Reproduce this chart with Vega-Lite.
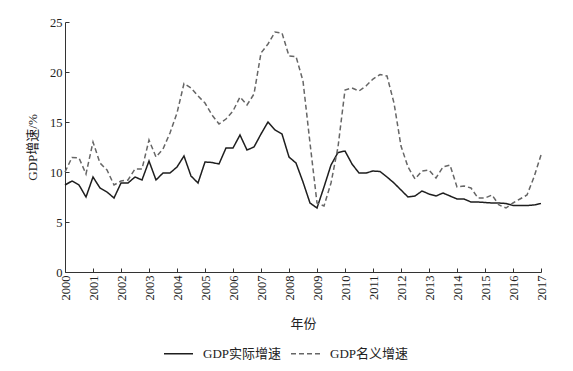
{
  "$schema": "https://vega.github.io/schema/vega-lite/v6.json",
  "width": 476,
  "height": 250,
  "autosize": {"type": "none"},
  "padding": {"left": 65, "top": 22, "right": 32, "bottom": 99},
  "background": "white",
  "config": {
    "font": "Liberation Serif, Noto Sans CJK SC",
    "view": {"stroke": null},
    "axis": {
      "grid": false,
      "domainColor": "#333333",
      "domainWidth": 1,
      "tickColor": "#333333",
      "tickSize": -4,
      "labelColor": "#222222",
      "titleColor": "#222222",
      "labelFontSize": 12.5,
      "titleFontSize": 13,
      "titleFontWeight": "normal",
      "labelFont": "Liberation Serif, Noto Sans CJK SC",
      "titleFont": "Liberation Serif, Noto Sans CJK SC"
    },
    "legend": {
      "labelFont": "Liberation Serif, Noto Sans CJK SC",
      "labelFontSize": 13,
      "labelColor": "#222222"
    }
  },
  "data": {
    "values": [
      {"t": 2000.0, "GDP实际增速": 8.7, "GDP名义增速": 10.0},
      {"t": 2000.25, "GDP实际增速": 9.1, "GDP名义增速": 11.45},
      {"t": 2000.5, "GDP实际增速": 8.7, "GDP名义增速": 11.4},
      {"t": 2000.75, "GDP实际增速": 7.5, "GDP名义增速": 9.8},
      {"t": 2001.0, "GDP实际增速": 9.5, "GDP名义增速": 13.0},
      {"t": 2001.25, "GDP实际增速": 8.4, "GDP名义增速": 10.9},
      {"t": 2001.5, "GDP实际增速": 8.0, "GDP名义增速": 10.2},
      {"t": 2001.75, "GDP实际增速": 7.4, "GDP名义增速": 8.7},
      {"t": 2002.0, "GDP实际增速": 8.9, "GDP名义增速": 9.1},
      {"t": 2002.25, "GDP实际增速": 8.9, "GDP名义增速": 9.2},
      {"t": 2002.5, "GDP实际增速": 9.5, "GDP名义增速": 10.3},
      {"t": 2002.75, "GDP实际增速": 9.2, "GDP名义增速": 10.3},
      {"t": 2003.0, "GDP实际增速": 11.1, "GDP名义增速": 13.2},
      {"t": 2003.25, "GDP实际增速": 9.2, "GDP名义增速": 11.5},
      {"t": 2003.5, "GDP实际增速": 9.9, "GDP名义增速": 12.3},
      {"t": 2003.75, "GDP实际增速": 9.9, "GDP名义增速": 13.9},
      {"t": 2004.0, "GDP实际增速": 10.5, "GDP名义增速": 15.9},
      {"t": 2004.25, "GDP实际增速": 11.6, "GDP名义增速": 18.85},
      {"t": 2004.5, "GDP实际增速": 9.6, "GDP名义增速": 18.4},
      {"t": 2004.75, "GDP实际增速": 8.9, "GDP名义增速": 17.6},
      {"t": 2005.0, "GDP实际增速": 11.0, "GDP名义增速": 16.9},
      {"t": 2005.25, "GDP实际增速": 10.95, "GDP名义增速": 15.7},
      {"t": 2005.5, "GDP实际增速": 10.8, "GDP名义增速": 14.8},
      {"t": 2005.75, "GDP实际增速": 12.4, "GDP名义增速": 15.3},
      {"t": 2006.0, "GDP实际增速": 12.4, "GDP名义增速": 16.1},
      {"t": 2006.25, "GDP实际增速": 13.7, "GDP名义增速": 17.5},
      {"t": 2006.5, "GDP实际增速": 12.2, "GDP名义增速": 16.7},
      {"t": 2006.75, "GDP实际增速": 12.5, "GDP名义增速": 17.8},
      {"t": 2007.0, "GDP实际增速": 13.8, "GDP名义增速": 21.9},
      {"t": 2007.25, "GDP实际增速": 15.0, "GDP名义增速": 22.8},
      {"t": 2007.5, "GDP实际增速": 14.2, "GDP名义增速": 24.0},
      {"t": 2007.75, "GDP实际增速": 13.8, "GDP名义增速": 23.9},
      {"t": 2008.0, "GDP实际增速": 11.5, "GDP名义增速": 21.6},
      {"t": 2008.25, "GDP实际增速": 10.9, "GDP名义增速": 21.55},
      {"t": 2008.5, "GDP实际增速": 9.0, "GDP名义增速": 19.1},
      {"t": 2008.75, "GDP实际增速": 6.9, "GDP名义增速": 12.9},
      {"t": 2009.0, "GDP实际增速": 6.4, "GDP名义增速": 6.9},
      {"t": 2009.25, "GDP实际增速": 8.5, "GDP名义增速": 6.6},
      {"t": 2009.5, "GDP实际增速": 10.7, "GDP名义增速": 8.9},
      {"t": 2009.75, "GDP实际增速": 11.95, "GDP名义增速": 12.5},
      {"t": 2010.0, "GDP实际增速": 12.1, "GDP名义增速": 18.2},
      {"t": 2010.25, "GDP实际增速": 10.8, "GDP名义增速": 18.4},
      {"t": 2010.5, "GDP实际增速": 9.9, "GDP名义增速": 18.1},
      {"t": 2010.75, "GDP实际增速": 9.9, "GDP名义增速": 18.6},
      {"t": 2011.0, "GDP实际增速": 10.1, "GDP名义增速": 19.3},
      {"t": 2011.25, "GDP实际增速": 10.05, "GDP名义增速": 19.75},
      {"t": 2011.5, "GDP实际增速": 9.5, "GDP名义增速": 19.6},
      {"t": 2011.75, "GDP实际增速": 8.9, "GDP名义增速": 16.9},
      {"t": 2012.0, "GDP实际增速": 8.2, "GDP名义增速": 12.6},
      {"t": 2012.25, "GDP实际增速": 7.5, "GDP名义增速": 10.5},
      {"t": 2012.5, "GDP实际增速": 7.6, "GDP名义增速": 9.3},
      {"t": 2012.75, "GDP实际增速": 8.1, "GDP名义增速": 10.1},
      {"t": 2013.0, "GDP实际增速": 7.8, "GDP名义增速": 10.2},
      {"t": 2013.25, "GDP实际增速": 7.6, "GDP名义增速": 9.4},
      {"t": 2013.5, "GDP实际增速": 7.9, "GDP名义增速": 10.5},
      {"t": 2013.75, "GDP实际增速": 7.6, "GDP名义增速": 10.7},
      {"t": 2014.0, "GDP实际增速": 7.3, "GDP名义增速": 8.5},
      {"t": 2014.25, "GDP实际增速": 7.3, "GDP名义增速": 8.6},
      {"t": 2014.5, "GDP实际增速": 7.0, "GDP名义增速": 8.4},
      {"t": 2014.75, "GDP实际增速": 7.0, "GDP名义增速": 7.4},
      {"t": 2015.0, "GDP实际增速": 6.95, "GDP名义增速": 7.4},
      {"t": 2015.25, "GDP实际增速": 6.9, "GDP名义增速": 7.7},
      {"t": 2015.5, "GDP实际增速": 6.9, "GDP名义增速": 6.7},
      {"t": 2015.75, "GDP实际增速": 6.85, "GDP名义增速": 6.4},
      {"t": 2016.0, "GDP实际增速": 6.65, "GDP名义增速": 6.9},
      {"t": 2016.25, "GDP实际增速": 6.65, "GDP名义增速": 7.3},
      {"t": 2016.5, "GDP实际增速": 6.65, "GDP名义增速": 7.7},
      {"t": 2016.75, "GDP实际增速": 6.7, "GDP名义增速": 9.5},
      {"t": 2017.0, "GDP实际增速": 6.85, "GDP名义增速": 11.7}
    ]
  },
  "transform": [
    {"fold": ["GDP实际增速", "GDP名义增速"], "as": ["series", "value"]}
  ],
  "mark": {"type": "line", "strokeWidth": 1.5},
  "encoding": {
    "x": {
      "field": "t",
      "type": "quantitative",
      "scale": {"domain": [2000, 2017], "nice": false, "zero": false},
      "axis": {
        "values": [2000, 2001, 2002, 2003, 2004, 2005, 2006, 2007, 2008, 2009, 2010, 2011, 2012, 2013, 2014, 2015, 2016, 2017],
        "format": "d",
        "labelAngle": -90,
        "labelPadding": 7,
        "title": "年份",
        "titleY": 51,
        "titleBaseline": "middle"
      }
    },
    "y": {
      "field": "value",
      "type": "quantitative",
      "scale": {"domain": [0, 25], "nice": false},
      "axis": {
        "values": [0, 5, 10, 15, 20, 25],
        "labelPadding": 7,
        "title": "GDP增速/%",
        "titleX": -33,
        "titleY": 125,
        "titleBaseline": "middle",
        "titleAlign": "center"
      }
    },
    "color": {
      "field": "series",
      "type": "nominal",
      "scale": {"domain": ["GDP实际增速", "GDP名义增速"], "range": ["#1e1e1e", "#666666"]},
      "legend": {
        "orient": "none",
        "legendX": 98,
        "legendY": 316,
        "direction": "horizontal",
        "title": null,
        "symbolType": "stroke",
        "symbolSize": 841,
        "symbolStrokeWidth": 1.5,
        "labelOffset": 9,
        "columnPadding": 6,
        "padding": 0
      }
    },
    "strokeDash": {
      "field": "series",
      "type": "nominal",
      "scale": {"domain": ["GDP实际增速", "GDP名义增速"], "range": [[1, 0], [5, 3]]},
      "legend": {
        "orient": "none",
        "legendX": 98,
        "legendY": 316,
        "direction": "horizontal",
        "title": null,
        "symbolType": "stroke",
        "symbolSize": 841,
        "symbolStrokeWidth": 1.5,
        "labelOffset": 9,
        "columnPadding": 6,
        "padding": 0
      }
    }
  }
}
